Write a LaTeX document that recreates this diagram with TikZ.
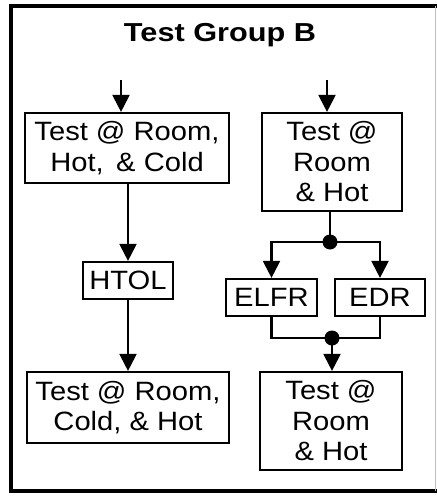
\documentclass[tikz,border=0pt]{standalone}
\usepackage{fontspec}
\setmainfont{Liberation Sans}[FakeStretch=1.1]
\newfontfamily\titlefont{Liberation Sans}[FakeStretch=1.18]
\usetikzlibrary{arrows.meta}
\begin{document}
\begin{tikzpicture}[x=1pt,y=-1pt,
  box/.style={draw, line width=2.2pt, inner sep=0pt, align=center,
    font=\fontsize{26.5}{30.5}\selectfont},
  arr/.style={line width=2.2pt, -{Triangle[width=17pt,length=17pt]}},
  conn/.style={line width=2.2pt},
  dotn/.style={circle, fill, inner sep=0pt, minimum size=15pt}]
\useasboundingbox (0,0) rectangle (437,496);
% frame
\draw[line width=4pt] (437,6) -| (10.5,491) -- (437,491);
\draw[line width=1pt, black!25] (435.5,6) -- (435.5,491);
% title
\node[anchor=base, font=\titlefont\bfseries\fontsize{26}{30}\selectfont] (title) at (220,41.7) {Test Group B};
% boxes
\node[box, minimum width=204pt, minimum height=70pt] (L1) at (127,148) {Test @ Room,\\Hot,\, \& Cold};
\node[box, minimum width=140pt, minimum height=98pt] (R1) at (332,162) {Test @\\Room\\\& Hot};
\node[box, minimum width=90pt, minimum height=37pt] (HTOL) at (128,280.5) {HTOL};
\node[box, minimum width=91pt, minimum height=37pt] (ELFR) at (271.5,297.5) {ELFR};
\node[box, minimum width=90pt, minimum height=37pt] (EDR) at (380,297.5) {EDR};
\node[box, minimum width=202pt, minimum height=71pt] (L2) at (128,407.5) {Test @ Room,\\Cold, \& Hot};
\node[box, minimum width=142pt, minimum height=98pt] (R2) at (331,421) {Test @\\Room\\\& Hot};
% dots and inputs
\node[dotn] (d1) at (330,242) {};
\node[dotn] (d2) at (332,338) {};
\coordinate (inL) at (121,80);
\coordinate (inR) at (327,80);
% connectors
\draw[arr] (inL) -- (inL |- L1.north);
\draw[arr] (inR) -- (inR |- R1.north);
\draw[arr] (HTOL.north |- L1.south) -- (HTOL.north);
\draw[arr] (HTOL.south) -- (HTOL.south |- L2.north);
\draw[conn] (d1.center |- R1.south) -- (d1.center);
\draw[arr] (d1.center) -| (ELFR.north);
\draw[arr] (d1.center) -| (EDR.north);
\draw[conn] (ELFR.south) |- (d2.center) -| (EDR.south);
\draw[arr] (d2.center) -- (d2.center |- R2.north);
\end{tikzpicture}
\end{document}
